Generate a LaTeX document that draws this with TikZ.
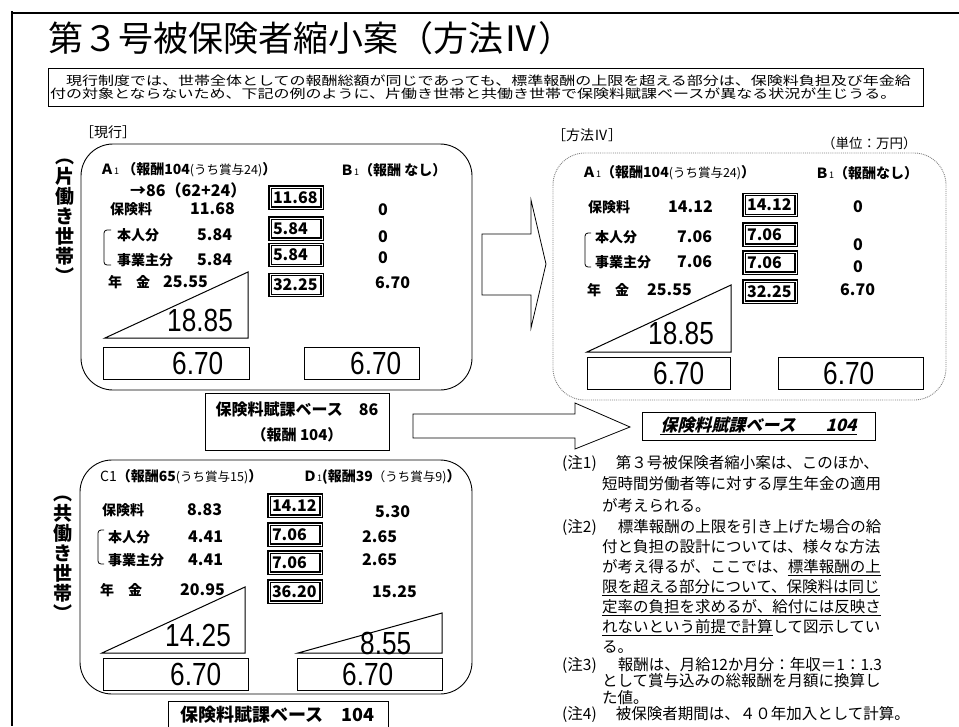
\documentclass[tikz,border=0pt]{standalone}
\usepackage{fontspec}
\setmainfont{Noto Sans CJK JP}
\newfontfamily\hdrfont{Noto Sans CJK JP}[FakeStretch=1.28]
\newfontfamily\bignum{Liberation Sans}[FakeStretch=0.82]
\newfontfamily\slfont{Noto Sans CJK JP}[FakeSlant=0.25]
\newcommand\setfs[1]{\fontsize{#1}{#1}\selectfont}
\newcommand\subn[1]{{\mdseries\setfs{9}#1}}

\tikzset{
  lbl/.style={inner sep=0pt, anchor=west, font=\setfs{14}},
  txt/.style={inner sep=0pt, anchor=west, font=\bfseries\setfs{14}},
  num/.style={inner sep=0pt, anchor=west, font=\bfseries\setfs{16}},
  big/.style={inner sep=0pt, anchor=west, font=\bignum\setfs{32}},
  vert/.style={inner sep=0pt, align=center, font=\bfseries\fontsize{19}{20}\selectfont},
  valbox/.style={draw, double=white, double distance=1pt, line width=1.2pt,
    fill=white, minimum width=52pt, minimum height=21pt, inner sep=2pt,
    text width=46pt, align=left, font=\bfseries\setfs{16}},
  panel/.style={line width=0.9pt, rounded corners=32pt},
  wedge/.style={draw, line width=1pt},
  basebox/.style={draw, line width=1pt, minimum height=32pt, inner sep=0pt},
  bracket/.style={line width=0.8pt, rounded corners=3pt},
  blockarrow/.style={line width=0.8pt},
  note/.style={inner sep=0pt, anchor=north west, align=left},
}

\begin{document}
\begin{tikzpicture}[x=1pt,y=-1pt]
\useasboundingbox (0,0) rectangle (959,726);
% frame and title
\draw[line width=2pt] (12,11) -- (12,726);
\draw[line width=1.2pt] (12,13) -- (959,13);
\node[inner sep=0pt, anchor=west, font=\setfs{35}] (title) at (48,38) {第３号被保険者縮小案（方法Ⅳ）};
\node[draw, line width=0.8pt, text width=871pt, inner sep=2pt, minimum height=38pt, align=left,
  font=\hdrfont\fontsize{12.5}{13.5}\selectfont] (intro) at (485.5,87)
  {　現行制度では、世帯全体としての報酬総額が同じであっても、標準報酬の上限を超える部分は、保険料負担及び年金給\\付の対象とならないため、下記の例のように、片働き世帯と共働き世帯で保険料賦課ベースが異なる状況が生じうる。};

\node[lbl] (curlbl) at (80,132) {［現行］};
\node[lbl] (methlbl) at (552,135) {［方法Ⅳ］};
\node[lbl, font=\setfs{13.5}] (unit) at (822,143) {（単位：万円）};

% panels
\draw[panel] (81,144) rectangle (472,390);
\draw[panel, gray, densely dotted] (553,153) rectangle (946,400);
\draw[panel] (80,460) rectangle (472,694);
\node[vert] (single) at (65,221) {︵\\片\\働\\き\\世\\帯\\︶};
\node[vert] (dual) at (63,558) {︵\\共\\働\\き\\世\\帯\\︶};

% current: A1, B1
\node[txt] (a1head) at (100,170) {Ａ\subn{1} （報酬104{\mdseries\setfs{12.5}(うち賞与24)}）};
\node[num] (a1cut) at (130,190) {→86（62+24）};
\node[txt] (a1plab) at (110,209) {保険料};
\node[num] (a1pval) at (190,209) {11.68};
\node[txt] (a1hlab) at (117,235) {本人分};
\node[num] (a1hval) at (197,235) {5.84};
\node[txt] (a1elab) at (117,260) {事業主分};
\node[num] (a1eval) at (197,260) {5.84};
\node[txt] (a1nlab) at (108,282) {年　金};
\node[num] (a1nval) at (163,282) {25.55};
\draw[bracket] (111,230) -- (104,230) -- (104,265) -- (111,265);
\node[valbox] (a1p) at (296,197.5) {11.68};
\node[valbox] (a1h) at (296,228.5) {5.84};
\node[valbox] (a1e) at (296,255) {5.84};
\node[valbox] (a1n) at (296,285) {32.25};
\node[txt] (b1head) at (340,170) {Ｂ\subn{1}（報酬 なし）};
\node[num, anchor=center] (b1p) at (383,210) {0};
\node[num, anchor=center] (b1h) at (383,237) {0};
\node[num, anchor=center] (b1e) at (383,258) {0};
\node[num] (b1n) at (375,283) {6.70};
\draw[wedge] (105,338) -- (248,272) -- (248,338) -- cycle;
\node[big] (a1gain) at (167,320) {18.85};
\node[basebox, minimum width=146pt] (a1base) at (176,363) {};
\node[big] (a1bval) at (172,363) {6.70};
\node[basebox, minimum width=115pt] (b1base) at (361.5,363) {};
\node[big] (b1bval) at (350,363) {6.70};

% method IV: A1, B1
\node[txt] (a2head) at (582,173) {Ａ\subn{1}（報酬104{\mdseries\setfs{12.5}(うち賞与24)}）};
\node[txt] (b2head) at (815,173) {Ｂ\subn{1}（報酬なし）};
\node[txt] (a2plab) at (588,207) {保険料};
\node[num] (a2pval) at (668,207) {14.12};
\node[txt] (a2hlab) at (595,237) {本人分};
\node[num] (a2hval) at (677,237) {7.06};
\node[txt] (a2elab) at (595,262) {事業主分};
\node[num] (a2eval) at (677,262) {7.06};
\node[txt] (a2nlab) at (587,290) {年　金};
\node[num] (a2nval) at (647,290) {25.55};
\draw[bracket] (591,233) -- (585,233) -- (585,267) -- (591,267);
\node[valbox] (a2p) at (770,205) {14.12};
\node[valbox] (a2h) at (770,234.5) {7.06};
\node[valbox] (a2e) at (770,262.5) {7.06};
\node[valbox] (a2n) at (770,291.5) {32.25};
\node[num, anchor=center] (b2p) at (858,207) {0};
\node[num, anchor=center] (b2h) at (858,245) {0};
\node[num, anchor=center] (b2e) at (858,267) {0};
\node[num] (b2n) at (840,290) {6.70};
\draw[wedge] (587,352) -- (731,285) -- (731,352) -- cycle;
\node[big] (a2gain) at (648,333) {18.85};
\node[basebox, minimum width=143pt] (a2base) at (658.5,373) {};
\node[big] (a2bval) at (653,373) {6.70};
\node[basebox, minimum width=145pt] (b2base) at (850.5,373) {};
\node[big] (b2bval) at (823,373) {6.70};

% arrows and bases
\draw[blockarrow] (482,234) -- (531,234) -- (531,200) -- (546,264) -- (531,328) -- (531,295) -- (482,295) -- cycle;
\node[draw, line width=1pt, minimum width=184pt, minimum height=57pt, align=center,
  font=\bfseries\fontsize{16}{25}\selectfont] (base86) at (297,421.5)
  {保険料賦課ベース　86\\{\setfs{15}（報酬 104）}};
\draw[blockarrow] (413,414) -- (575,414) -- (575,403) -- (630,427) -- (575,449) -- (575,438) -- (413,438) -- cycle;
\node[draw, line width=0.9pt, minimum width=233pt, minimum height=28pt,
  font=\slfont\bfseries\setfs{17}] (base104) at (758.5,426) {\underline{保険料賦課ベース\hspace{30pt}104}};

% dual earner: C1, D1
\node[txt] (c1head) at (100,477) {{\mdseries C1}（報酬65{\mdseries\setfs{12.5}(うち賞与15)}）};
\node[txt] (d1head) at (303,477) {Ｄ\subn{1}(報酬39{\mdseries\setfs{12.5}（うち賞与9)}）};
\node[txt] (c1plab) at (102,510) {保険料};
\node[num] (c1pval) at (187,510) {8.83};
\node[txt] (c1hlab) at (108,537) {本人分};
\node[num] (c1hval) at (188,537) {4.41};
\node[txt] (c1elab) at (108,560) {事業主分};
\node[num] (c1eval) at (188,560) {4.41};
\node[txt] (c1nlab) at (100,590) {年　金};
\node[num] (c1nval) at (180,590) {20.95};
\draw[bracket] (104,530) -- (98,530) -- (98,564) -- (104,564);
\node[valbox] (c1p) at (295,505.5) {14.12};
\node[valbox] (c1h) at (295,534.5) {7.06};
\node[valbox] (c1e) at (295,562.5) {7.06};
\node[valbox] (c1n) at (295,591.5) {36.20};
\node[num] (d1p) at (375,512) {5.30};
\node[num] (d1h) at (362,537) {2.65};
\node[num] (d1e) at (362,560) {2.65};
\node[num] (d1n) at (372,592) {15.25};
\draw[wedge] (102,653) -- (245,587) -- (245,653) -- cycle;
\node[big] (c1gain) at (165,635) {14.25};
\node[basebox, minimum width=145pt] (c1base) at (175.5,674) {};
\node[big] (c1bval) at (170,674) {6.70};
\draw[wedge] (298,653) -- (442,613) -- (442,653) -- cycle;
\node[big] (d1gain) at (360,643) {8.55};
\node[basebox, minimum width=145pt] (d1base) at (369.5,674) {};
\node[big] (d1bval) at (342,674) {6.70};
\draw[line width=1pt] (168,727) |- (388,701) -- (388,727);
\node[txt, font=\bfseries\setfs{18}] (cdbase) at (180,715) {保険料賦課ベース　104};

% notes
\node[note, font=\fontsize{15.5}{21.5}\selectfont] (note1) at (562,455)
  {(注1)\hspace{19pt}第３号被保険者縮小案は、このほか、\\
   \hspace*{40pt}短時間労働者等に対する厚生年金の適用\\
   \hspace*{40pt}が考えられる。};
\node[note, font=\fontsize{15.5}{20}\selectfont] (note2) at (562,519)
  {(注2)\hspace{21pt}標準報酬の上限を引き上げた場合の給\\
   \hspace*{40pt}付と負担の設計については、様々な方法\\
   \hspace*{40pt}が考え得るが、ここでは、\underline{標準報酬の上}\\
   \hspace*{40pt}\underline{限を超える部分について、保険料は同じ}\\
   \hspace*{40pt}\underline{定率の負担を求めるが、給付には反映さ}\\
   \hspace*{40pt}\underline{れないという前提で計算}して図示してい\\
   \hspace*{40pt}る。};
\node[note, font=\fontsize{15.5}{16.5}\selectfont] (note3) at (562,657)
  {(注3)\hspace{21pt}報酬は、月給12か月分：年収＝1：1.3\\
   \hspace*{40pt}として賞与込みの総報酬を月額に換算し\\
   \hspace*{40pt}た値。};
\node[note, font=\setfs{15.5}] (note4) at (562,706)
  {(注4)\hspace{19pt}被保険者期間は、４０年加入として計算。};
\end{tikzpicture}
\end{document}
